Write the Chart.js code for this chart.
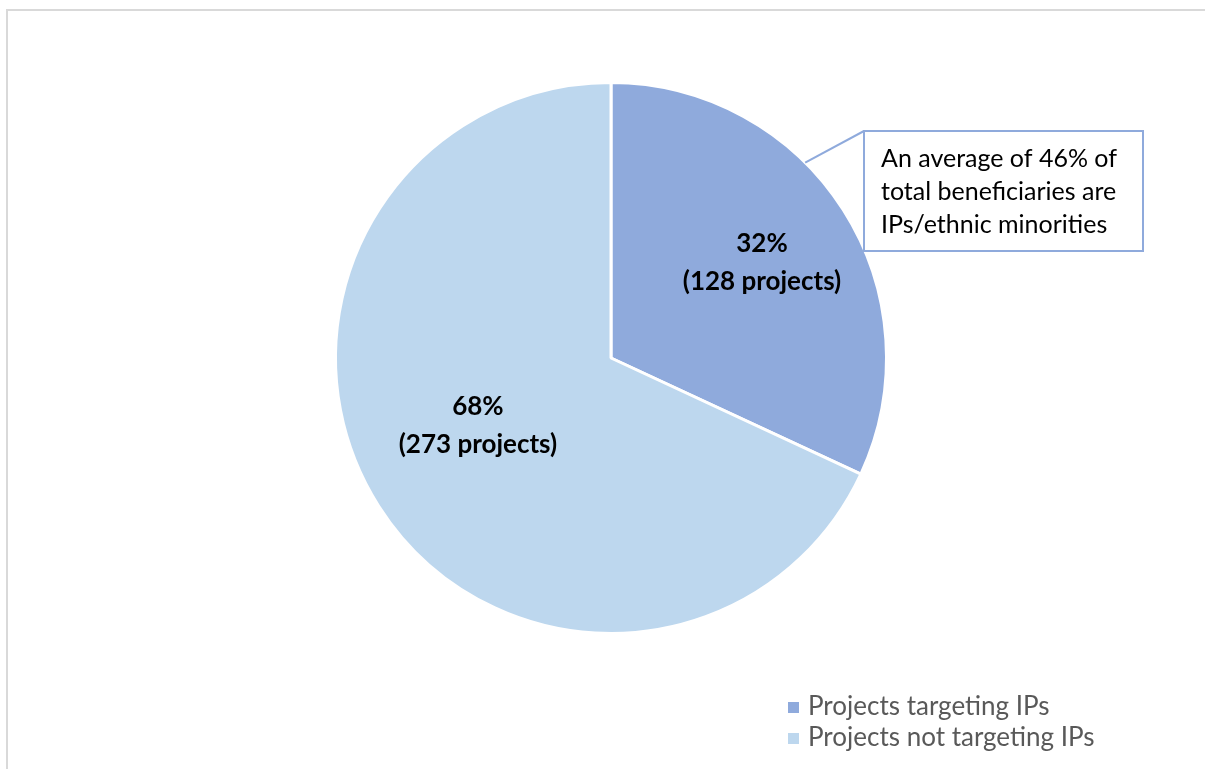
<!DOCTYPE html>
<html>
<head>
<meta charset="utf-8">
<script src="https://cdn.jsdelivr.net/npm/chart.js@4"></script>
<style>
  html, body { margin: 0; padding: 0; background: #fff; }
  body { width: 1205px; height: 769px; overflow: hidden; position: relative; }
  #frame {
    position: absolute; left: 6px; top: 9px; width: 1210px; height: 780px;
    border: 2px solid #d9d9d9; box-sizing: border-box;
  }
  #wrap { position: absolute; left: 0; top: 0; width: 1205px; height: 769px; }
</style>
</head>
<body>
<div id="frame"></div>
<div id="wrap"><canvas id="pieChart"></canvas></div>
<script>
// Categories and values
const categories = ["Projects targeting IPs", "Projects not targeting IPs"];
const projectCounts = [128, 273];
const percentLabels = ["32%", "68%"];
const sliceColors = ["#8FAADC", "#BDD7EE"];
const calloutLines = [
  "An average of 46% of",
  "total beneficiaries are",
  "IPs/ethnic minorities"
];

const FONT = "Lato, 'Open Sans', sans-serif";

// Draw percentage labels inside the slices
const sliceLabels = {
  id: "sliceLabels",
  afterDatasetsDraw(chart) {
    const ctx = chart.ctx;
    const meta = chart.getDatasetMeta(0);
    // label anchors: fraction of radius and small angle nudge
    const factors = [0.65, 0.54];
    const nudge = [0, 6 * Math.PI / 180];
    ctx.save();
    ctx.fillStyle = "#000";
    ctx.font = "bold 26px " + FONT;
    ctx.textAlign = "center";
    ctx.textBaseline = "middle";
    meta.data.forEach((arc, i) => {
      const mid = (arc.startAngle + arc.endAngle) / 2 + nudge[i];
      const r = arc.outerRadius * factors[i];
      const x = arc.x + Math.cos(mid) * r;
      const y = arc.y + Math.sin(mid) * r;
      ctx.fillText(percentLabels[i], x, y - 18);
      ctx.fillText("(" + projectCounts[i] + " projects)", x, y + 20);
    });
    ctx.restore();
  },
};

// Callout box with leader line pointing into the first slice
const callout = {
  id: "callout",
  afterDraw(chart) {
    const ctx = chart.ctx;
    const arc = chart.getDatasetMeta(0).data[0];
    const a = arc.startAngle + (arc.endAngle - arc.startAngle) * 0.39;
    const px = arc.x + Math.cos(a) * arc.outerRadius;
    const py = arc.y + Math.sin(a) * arc.outerRadius;
    ctx.save();
    ctx.strokeStyle = "#8FAADC";
    ctx.lineWidth = 2;
    ctx.beginPath();
    ctx.moveTo(px, py);
    ctx.lineTo(864, 131);
    ctx.stroke();
    ctx.fillStyle = "#fff";
    ctx.fillRect(864, 131, 279, 120);
    ctx.strokeRect(864, 131, 279, 120);
    ctx.fillStyle = "#000";
    ctx.font = "25px " + FONT;
    ctx.textAlign = "left";
    ctx.textBaseline = "middle";
    calloutLines.forEach((line, i) => {
      ctx.fillText(line, 881, 159 + i * 33);
    });
    ctx.restore();
  },
};

// Legend in the bottom-right corner
const cornerLegend = {
  id: "cornerLegend",
  afterDraw(chart) {
    const ctx = chart.ctx;
    ctx.save();
    ctx.font = "26px " + FONT;
    ctx.textAlign = "left";
    ctx.textBaseline = "middle";
    categories.forEach((name, i) => {
      const y = 707 + i * 31;
      ctx.fillStyle = sliceColors[i];
      ctx.fillRect(788, y - 5, 11, 11);
      ctx.fillStyle = "#595959";
      ctx.fillText(name, 808, y);
    });
    ctx.restore();
  },
};

const ctx = document.getElementById("pieChart").getContext("2d");
new Chart(ctx, {
  type: "pie",
  data: {
    labels: categories,
    datasets: [
      {
        data: projectCounts,
        backgroundColor: sliceColors,
        borderColor: "#ffffff",
        borderWidth: 3,
      },
    ],
  },
  options: {
    responsive: true,
    maintainAspectRatio: false,
    animation: false,
    layout: {
      padding: { top: 81, bottom: 134, left: 17, right: 0 },
    },
    plugins: {
      legend: { display: false },
      tooltip: { enabled: false },
    },
  },
  plugins: [sliceLabels, callout, cornerLegend],
});
</script>
</body>
</html>
